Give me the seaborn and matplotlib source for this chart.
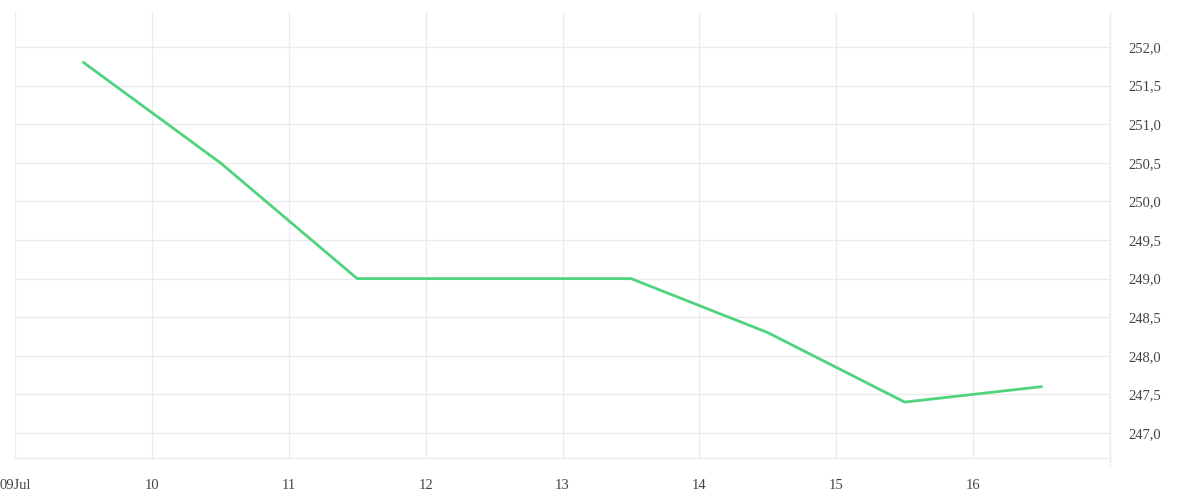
import matplotlib
matplotlib.use('Agg')
import matplotlib.pyplot as plt
import seaborn as sns
import pandas as pd

# data
dates = ['2024-07-09 12:00', '2024-07-10 12:00', '2024-07-11 12:00', '2024-07-12 12:00',
         '2024-07-13 12:00', '2024-07-14 12:00', '2024-07-15 12:00', '2024-07-16 12:00']
values = [251.8, 250.5, 249.0, 249.0, 249.0, 248.3, 247.4, 247.6]
tick_days = ['2024-07-09', '2024-07-10', '2024-07-11', '2024-07-12', '2024-07-13',
             '2024-07-14', '2024-07-15', '2024-07-16', '2024-07-17']
tick_labels = ['09Jul', '10', '11', '12', '13', '14', '15', '16', '']
y_ticks = [247.0, 247.5, 248.0, 248.5, 249.0, 249.5, 250.0, 250.5, 251.0, 251.5, 252.0]

df = pd.DataFrame({'date': pd.to_datetime(dates), 'value': values})

sns.set_style('white')
plt.rcParams['font.family'] = ['Liberation Serif', 'DejaVu Serif']

fig = plt.figure(figsize=(12, 5), dpi=100)
ax = fig.add_axes([0.0125, 0.084, 0.9125, 0.892])

sns.lineplot(data=df, x='date', y='value', ax=ax, color='#4ed47c', linewidth=2)

grid_col = '#ebebeb'
x_end = pd.Timestamp(tick_days[-1])
ax.set_xlim(pd.Timestamp(tick_days[0]), x_end)
ax.set_ylim(246.676, 252.453)
ax.set_xticks(pd.to_datetime(tick_days))
ax.set_xticklabels(tick_labels)
ax.set_yticks(y_ticks)
ax.set_yticklabels([f'{v:.1f}'.replace('.', ',') for v in y_ticks])

ax.yaxis.tick_right()
ax.tick_params(axis='y', length=0, pad=13, labelsize=10.5, labelcolor='#444444')
ax.tick_params(axis='x', length=7, width=1, color=grid_col, pad=8, labelsize=10.5,
               labelcolor='#444444')
ax.grid(True, color=grid_col, linewidth=1)
for name, s in ax.spines.items():
    if name == 'bottom':
        s.set_color(grid_col)
        s.set_linewidth(1)
    else:
        s.set_visible(False)
# right edge line, running down like the tick marks
ax.axvline(x_end, ymin=-0.0157, ymax=1, color=grid_col, linewidth=1, clip_on=False, zorder=0)
ax.set_xlabel('')
ax.set_ylabel('')

plt.savefig('out.png', dpi=100)
plt.close(fig)
